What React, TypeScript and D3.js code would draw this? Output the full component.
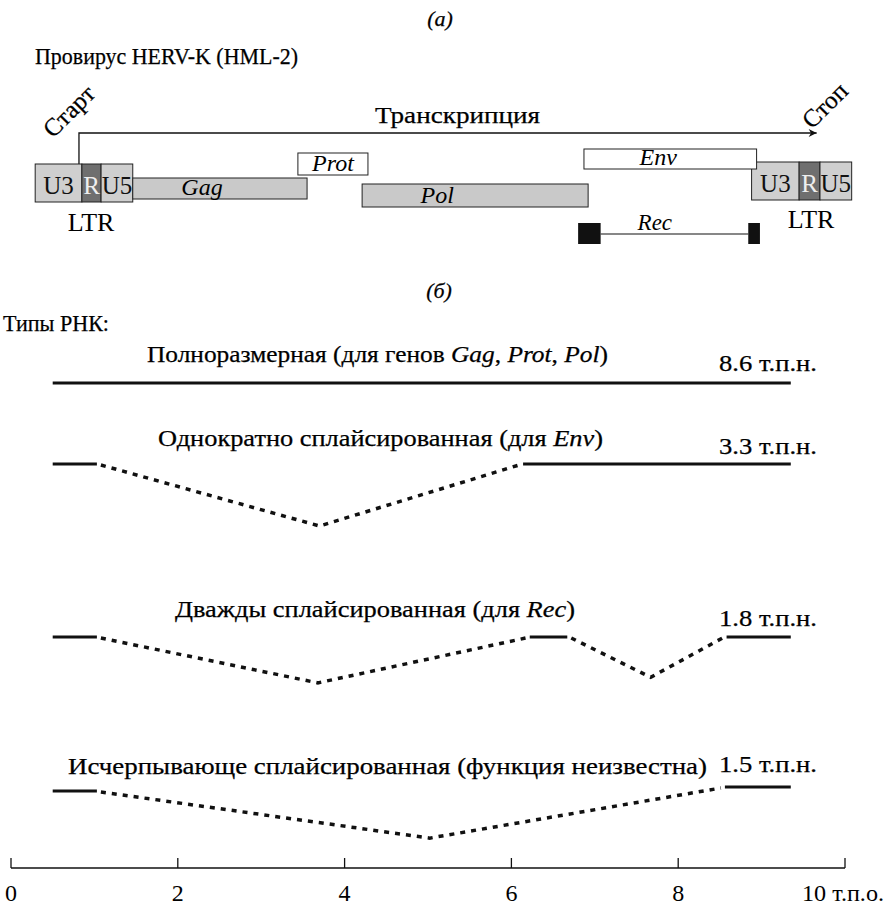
import React from "react";
import * as d3 from "d3";

// ---------- data (kb coordinates) ----------
const axisTicks = [0, 2, 4, 6, 8, 10];
const axisTickLabels = ["0", "2", "4", "6", "8", "10 т.п.о."];

const ltrParts = ["U3", "R", "U5"];
const ltrLeftBounds = [0.29, 0.85, 1.08, 1.46];
const ltrRightBounds = [8.88, 9.45, 9.7, 10.08];

const geneNames = ["Gag", "Prot", "Pol", "Env"];
const geneStart = [1.46, 3.44, 4.21, 6.87];
const geneEnd = [3.55, 4.28, 6.92, 8.94];
const geneLabelAt = [2.29, 3.86, 5.11, 7.76];
const geneFilled = [true, false, true, false];

const recExons = [
  [6.8, 7.07],
  [8.84, 8.98],
];
const recLabelAt = 7.72;
const transcriptionStart = 0.815;
const transcriptionEnd = 9.66;

const rnaTitles: [string, boolean][][] = [
  [["Полноразмерная (для генов ", false], ["Gag", true], [", ", false], ["Prot", true], [", ", false], ["Pol", true], [")", false]],
  [["Однократно сплайсированная (для ", false], ["Env", true], [")", false]],
  [["Дважды сплайсированная (для ", false], ["Rec", true], [")", false]],
  [["Исчерпывающе сплайсированная (функция неизвестна)", false]],
];
const rnaSizes = ["8.6 т.п.н.", "3.3 т.п.н.", "1.8 т.п.н.", "1.5 т.п.н."];
const rnaExons = [
  [[0.5, 9.35]],
  [[0.5, 1.03], [6.14, 9.35]],
  [[0.5, 1.03], [6.22, 6.67], [8.58, 9.35]],
  [[0.5, 1.03], [8.56, 9.35]],
];
const rnaIntronApex = [[], [3.7], [3.68, 7.67], [5.02]];
const rnaIntronDepth = [[], [1.0], [0.74, 0.65], [0.76]];
const rnaExonShift = [[0], [0, 0], [0, 0, 0], [0, -4]];

// ---------- layout ----------
const W = 889;
const H = 907;
const FONT = '"Liberation Serif", "Times New Roman", Times, serif';
const rowY = [383, 464, 637, 791];
const titleX = [147, 158, 175, 68];
const titleW = [461, 445, 400, 639];
const titleBase = [362, 446, 617, 774];
const sizeBase = [371, 454, 626, 772];
const geneTop = [178, 153, 184, 149];
const geneBot = [199, 175, 207, 169];
const AXIS_Y = 868;

export default function App() {
  const x = d3.scaleLinear().domain([0, 10]).range([11, 845]);
  const depth = d3.scaleLinear().domain([0, 1]).range([0, 62]);
  const line = d3.line<[number, number]>().x((d) => d[0]).y((d) => d[1]);
  const partFill = ["#cfcfcf", "#6f6f6f", "#cfcfcf"];

  const renderLTR = (b: number[], top: number, bot: number, key: string) => (
    <g key={key}>
      {ltrParts.map((p, i) => (
        <rect key={p} x={x(b[i])} y={top} width={x(b[i + 1]) - x(b[i])} height={bot - top} fill={partFill[i]} stroke="#222" strokeWidth={1} />
      ))}
      {ltrParts.map((p, i) => (
        <text key={p + "t"} x={(x(b[i]) + x(b[i + 1])) / 2} y={top + 30} textAnchor="middle" fontSize={25} fill={i === 1 ? "#eee" : "#111"}>
          {p}
        </text>
      ))}
    </g>
  );

  return (
    <svg width={W} height={H} style={{ position: "absolute", left: 0, top: 0, background: "#fff", fontFamily: FONT }}>
      <rect width={W} height={H} fill="#fff" />
      <g stroke="#000" strokeWidth={0.25}>
        {/* (a) */}
        <text x={440} y={26} textAnchor="middle" fontSize={22} fontStyle="italic">(а)</text>
        <text x={35} y={64} fontSize={24} textLength={263} lengthAdjust="spacingAndGlyphs">Провирус HERV-K (HML-2)</text>
        <text x={375} y={123} fontSize={24} textLength={165} lengthAdjust="spacingAndGlyphs">Транскрипция</text>
        <text transform={`translate(53,139) rotate(-45)`} fontSize={25}>Старт</text>
        <text transform={`translate(812,130) rotate(-45)`} fontSize={25}>Стоп</text>
      </g>

      {/* transcription arrow */}
      <defs>
        <marker id="arr" viewBox="0 0 10 10" refX={10} refY={5} markerWidth={11} markerHeight={8} markerUnits="userSpaceOnUse" orient="auto">
          <path d="M0,0 L10,5 L0,10 L3,5 z" fill="#111" />
        </marker>
      </defs>
      <path
        d={line([
          [x(transcriptionStart), 164],
          [x(transcriptionStart), 133],
          [x(transcriptionEnd), 133],
        ]) as string}
        fill="none"
        stroke="#111"
        strokeWidth={1.3}
        markerEnd="url(#arr)"
      />

      {/* LTRs */}
      {renderLTR(ltrLeftBounds, 164, 202, "l")}
      {renderLTR(ltrRightBounds, 162, 200, "r")}
      <text x={91} y={231} textAnchor="middle" fontSize={26}>LTR</text>
      <text x={811} y={228} textAnchor="middle" fontSize={26}>LTR</text>

      {/* genes */}
      {geneNames.map((g, i) => (
        <g key={g}>
          <rect x={x(geneStart[i])} y={geneTop[i]} width={x(geneEnd[i]) - x(geneStart[i])} height={geneBot[i] - geneTop[i]} fill={geneFilled[i] ? "#c9c9c9" : "#fff"} stroke="#222" strokeWidth={1} />
          <text x={x(geneLabelAt[i])} y={geneBot[i] - 4} textAnchor="middle" fontSize={24} fontStyle="italic">{g}</text>
        </g>
      ))}

      {/* Rec */}
      <line x1={x(recExons[0][1])} x2={x(recExons[1][0])} y1={234} y2={234} stroke="#111" strokeWidth={1.2} />
      {recExons.map((e, i) => (
        <rect key={i} x={x(e[0])} y={223} width={x(e[1]) - x(e[0])} height={21} fill="#111" />
      ))}
      <text x={x(recLabelAt)} y={230} textAnchor="middle" fontSize={23} fontStyle="italic">Rec</text>

      {/* (б) */}
      <g stroke="#000" strokeWidth={0.25}>
        <text x={439} y={298} textAnchor="middle" fontSize={22} fontStyle="italic">(б)</text>
        <text x={3} y={331} fontSize={24} textLength={106} lengthAdjust="spacingAndGlyphs">Типы РНК:</text>
      </g>

      {/* RNA rows */}
      {rnaTitles.map((segs, r) => {
        const y0 = rowY[r];
        const exons = rnaExons[r];
        return (
          <g key={r}>
            <g stroke="#000" strokeWidth={0.25}>
              <text x={titleX[r]} y={titleBase[r]} fontSize={23} textLength={titleW[r]} lengthAdjust="spacingAndGlyphs">
                {segs.map((s, j) => (
                  <tspan key={j} fontStyle={s[1] ? "italic" : "normal"}>{s[0]}</tspan>
                ))}
              </text>
              <text x={719} y={sizeBase[r]} fontSize={23} textLength={98} lengthAdjust="spacingAndGlyphs">{rnaSizes[r]}</text>
            </g>
            {exons.map((e, j) => (
              <line key={"e" + j} x1={x(e[0])} x2={x(e[1])} y1={y0 + rnaExonShift[r][j]} y2={y0 + rnaExonShift[r][j]} stroke="#111" strokeWidth={3} />
            ))}
            {rnaIntronApex[r].map((a, j) => {
              const ya = y0 + rnaExonShift[r][j];
              const yb = y0 + rnaExonShift[r][j + 1];
              const pts: [number, number][] = [
                [x(exons[j][1]) + 4, ya + 1],
                [x(a), y0 + depth(rnaIntronDepth[r][j])],
                [x(exons[j + 1][0]) - 4, yb + 1],
              ];
              return <path key={"i" + j} d={line(pts) as string} fill="none" stroke="#111" strokeWidth={3.5} strokeDasharray="5 6" />;
            })}
          </g>
        );
      })}

      {/* axis */}
      <line x1={x(0)} x2={x(10)} y1={AXIS_Y} y2={AXIS_Y} stroke="#111" strokeWidth={1.3} />
      {axisTicks.map((t, i) => (
        <g key={t}>
          <line x1={x(t)} x2={x(t)} y1={AXIS_Y} y2={AXIS_Y - 10} stroke="#111" strokeWidth={1.3} />
          {i < axisTicks.length - 1 ? (
            <text x={x(t)} y={901} textAnchor="middle" fontSize={24}>{axisTickLabels[i]}</text>
          ) : (
            <text x={x(t) - 43} y={901} fontSize={24} textLength={82} lengthAdjust="spacingAndGlyphs">{axisTickLabels[i]}</text>
          )}
        </g>
      ))}
    </svg>
  );
}
